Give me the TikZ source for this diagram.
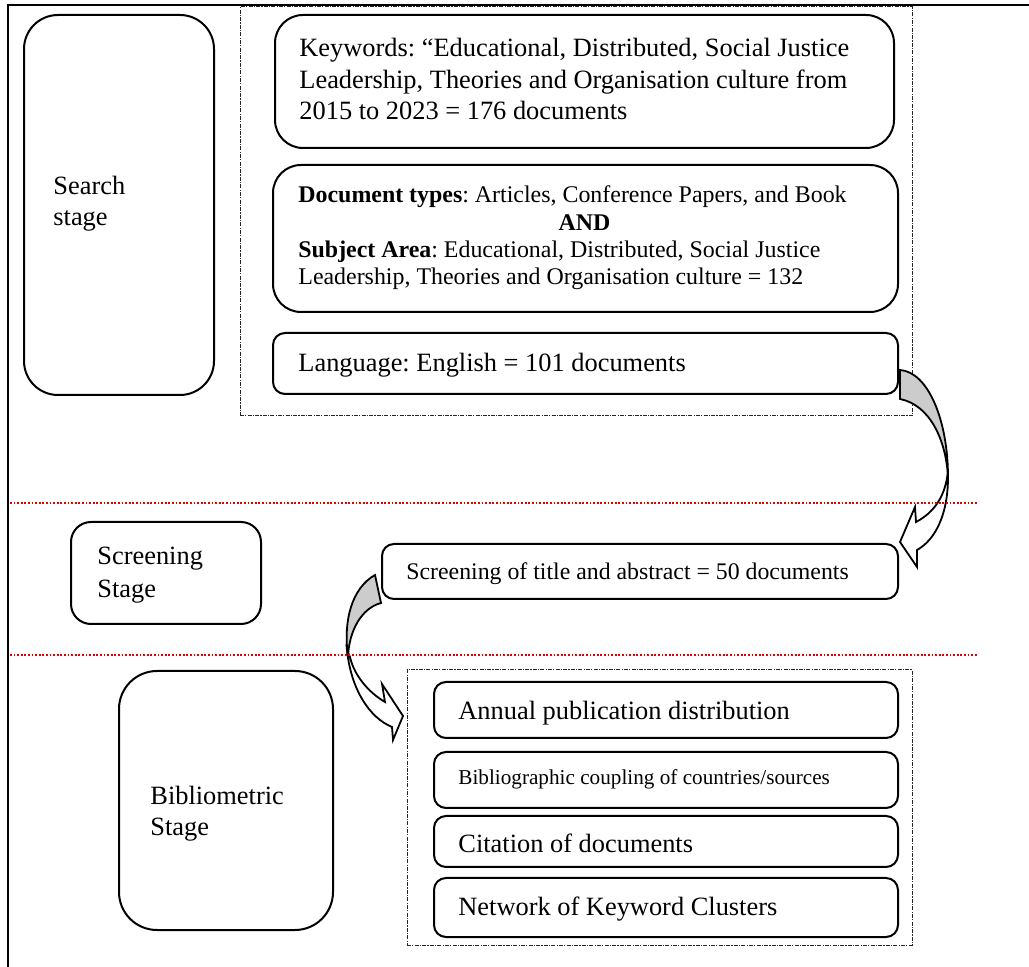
\documentclass[tikz,border=0pt]{standalone}
\usepackage{fontspec}
\setmainfont{Liberation Serif}
\usetikzlibrary{fit}
\newcommand\fs[2]{\fontsize{#1}{#2}\selectfont}
\frenchspacing
\begin{document}
\frenchspacing
\begin{tikzpicture}[x=0.5pt,y=-0.5pt,
  stagebox/.style={draw, line width=1pt, rounded corners=#1, inner sep=0pt},
  container/.style={draw=black!85, line width=0.5pt, dash pattern=on 2pt off 0.6pt on 0.6pt off 0.6pt, inner sep=0pt},
  sepline/.style={draw=red!90!black, line width=0.9pt, dash pattern=on 0.9pt off 0.9pt},
  arrowshape/.style={draw, line width=0.9pt, line join=miter},
  lbl/.style={anchor=base west, inner sep=0pt}]
\useasboundingbox (0,0) rectangle (1029,967);

% outer frame
\draw[line width=1pt] (1029,5) -- (8,5) -- (8,967);

% containers
\node[container, fit={(240,7) (912,416)}] (cont1) {};
\node[container, fit={(407,670) (912,945)}] (cont2) {};

% boxes
\node[stagebox=17pt, fit={(24,15) (214,395)}] (searchbox) {};
\node[stagebox=14pt, fit={(275,15) (894,148)}] (kwbox) {};
\node[stagebox=14pt, fit={(273,165) (898,312)}] (docbox) {};
\node[stagebox=6pt, fit={(273,333) (898,394)}] (langbox) {};
\node[stagebox=10pt, fit={(71,522) (261,624)}] (scrstage) {};
\node[stagebox=6pt, fit={(382,544) (898,599)}] (scrbox) {};
\node[stagebox=19pt, fit={(119,671) (333,930)}] (bibstage) {};
\node[stagebox=6pt, fit={(434,682) (898,738)}] (annual) {};
\node[stagebox=6pt, fit={(434,752) (898,808)}] (biblio) {};
\node[stagebox=6pt, fit={(434,816) (898,867)}] (citation) {};
\node[stagebox=6pt, fit={(434,878) (898,937)}] (network) {};

% texts
\node[lbl] (searchtxt) at (53,195) {\parbox[t]{100pt}{\fs{13.2pt}{15.5pt}\raggedright Search\\stage}};
\node[lbl] (kwtxt) at (299,57) {\parbox[t]{320pt}{\fs{13.2pt}{15.75pt}\raggedright Keywords: “Educational, Distributed, Social Justice\\Leadership, Theories and Organisation culture from\\2015 to 2023 = 176 documents}};
\node[lbl] (doctxt) at (298,203) {\parbox[t]{286pt}{\fs{11.95pt}{13.65pt}\raggedright\textbf{Document types}: Articles, Conference Papers, and Book\par\centering\textbf{AND}\par\raggedright\textbf{Subject Area}: Educational, Distributed, Social Justice\\Leadership, Theories and Organisation culture = 132}};
\node[lbl] (langtxt) at (298,372) {\fs{13.2pt}{15.75pt}Language: English = 101 documents};
\node[lbl] (scrstagetxt) at (97,565) {\parbox[t]{100pt}{\fs{13.2pt}{16.5pt}\raggedright Screening\\Stage}};
\node[lbl] (scrtxt) at (406,580) {\fs{11.9pt}{14pt}Screening of title and abstract = 50 documents};
\node[lbl] (bibstagetxt) at (150,805) {\parbox[t]{100pt}{\fs{13.2pt}{15.5pt}\raggedright Bibliometric\\Stage}};
\node[lbl] (annualtxt) at (458,720) {\fs{13.2pt}{15.75pt}Annual publication distribution};
\node[lbl] (bibliotxt) at (458,785) {\fs{10.6pt}{12.5pt}Bibliographic coupling of countries/sources};
\node[lbl] (citationtxt) at (458,853) {\fs{13.2pt}{15.75pt}Citation of documents};
\node[lbl] (networktxt) at (458,915) {\fs{13.2pt}{15.75pt}Network of Keyword Clusters};

% curved arrow 1 (search -> screening)
\filldraw[arrowshape, fill=white]
  (948,477) .. controls (948,515) and (935,540) .. (917,550)
  -- (917,567) -- (900,542) -- (915,507) -- (916,522)
  .. controls (935,512) and (946,495) .. (948,470) -- cycle;
\filldraw[arrowshape, fill=black!20]
  (900,370) .. controls (928,372) and (948,420) .. (948,477)
  .. controls (946,440) and (930,405) .. (900,399) -- cycle;

% curved arrow 2 (screening -> bibliometric)
\filldraw[arrowshape, fill=white]
  (347,650) .. controls (351,690) and (370,718) .. (392,727)
  -- (393,740) -- (403,716) -- (382,684) -- (385,702)
  .. controls (368,692) and (354,675) .. (350,657) -- cycle;
\filldraw[arrowshape, fill=black!20]
  (375,575) .. controls (352,588) and (343,620) .. (348,657)
  .. controls (349,630) and (362,608) .. (381,603) -- cycle;

% stage separators
\draw[sepline] (10,503) -- (977,503);
\draw[sepline] (10,655) -- (977,655);
\end{tikzpicture}
\end{document}
